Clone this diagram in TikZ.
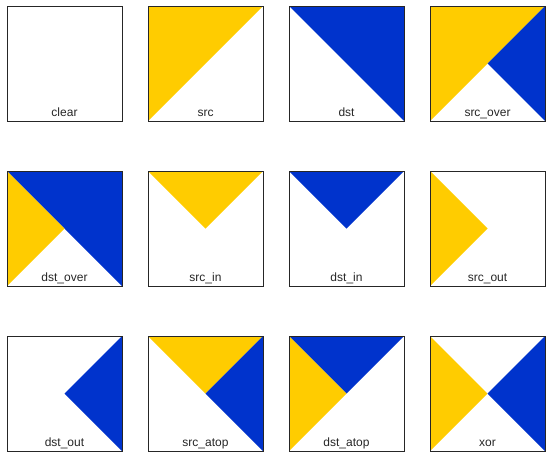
\documentclass[tikz,border=0pt]{standalone}
\usepackage{fontspec}
\setmainfont{Liberation Sans}
\usepackage{tikz}
\usetikzlibrary{positioning}
\definecolor{srcyellow}{RGB}{255,204,0}
\definecolor{dstblue}{RGB}{0,51,204}

\begin{document}
\begin{tikzpicture}[x=1pt, y=-1pt, line width=1pt,
    panel/.style={minimum size=115pt, inner sep=0pt, outer sep=0pt},
    box/.style={draw=black!85},
    lbl/.style={font=\fontsize{12}{14}\selectfont, text=black!85, anchor=base},
    src/.style={fill=srcyellow},
    dst/.style={fill=dstblue}]
    \useasboundingbox (0,0) rectangle (553,459);

    % panels, four in a row
    \foreach \name [count=\i from 0] in {clear,src,dst,src\_over,dst\_over,src\_in,dst\_in,src\_out,dst\_out,src\_atop,dst\_atop,xor}{
        \pgfmathsetmacro{\px}{64.5+141*mod(\i,4)}
        \pgfmathsetmacro{\py}{63.5+165*int(\i/4)}
        \node[panel] (p\i) at (\px,\py) {};
    }

    % src
    \fill[src] (p1.north west) -- (p1.north east) -- (p1.south west) -- cycle;
    % dst
    \fill[dst] (p2.north west) -- (p2.north east) -- (p2.south east) -- cycle;
    % src_over
    \fill[src] (p3.north west) -- (p3.north east) -- (p3.south west) -- cycle;
    \fill[dst] (p3.north east) -- (p3.south east) -- (p3.center) -- cycle;
    % dst_over
    \fill[dst] (p4.north west) -- (p4.north east) -- (p4.south east) -- cycle;
    \fill[src] (p4.north west) -- (p4.center) -- (p4.south west) -- cycle;
    % src_in, dst_in
    \fill[src] (p5.north west) -- (p5.north east) -- (p5.center) -- cycle;
    \fill[dst] (p6.north west) -- (p6.north east) -- (p6.center) -- cycle;
    % src_out, dst_out
    \fill[src] (p7.north west) -- (p7.center) -- (p7.south west) -- cycle;
    \fill[dst] (p8.north east) -- (p8.south east) -- (p8.center) -- cycle;
    % src_atop
    \fill[src] (p9.north west) -- (p9.north east) -- (p9.center) -- cycle;
    \fill[dst] (p9.north east) -- (p9.south east) -- (p9.center) -- cycle;
    % dst_atop
    \fill[dst] (p10.north west) -- (p10.north east) -- (p10.center) -- cycle;
    \fill[src] (p10.north west) -- (p10.center) -- (p10.south west) -- cycle;
    % xor
    \fill[src] (p11.north west) -- (p11.center) -- (p11.south west) -- cycle;
    \fill[dst] (p11.north east) -- (p11.south east) -- (p11.center) -- cycle;

    % frames and names
    \foreach \name [count=\i from 0] in {clear,src,dst,src\_over,dst\_over,src\_in,dst\_in,src\_out,dst\_out,src\_atop,dst\_atop,xor}{
        \draw[box] (p\i.north west) rectangle (p\i.south east);
        \node[lbl] (l\i) at ([yshift=5pt]p\i.south) {\name};
    }
\end{tikzpicture}
\end{document}
